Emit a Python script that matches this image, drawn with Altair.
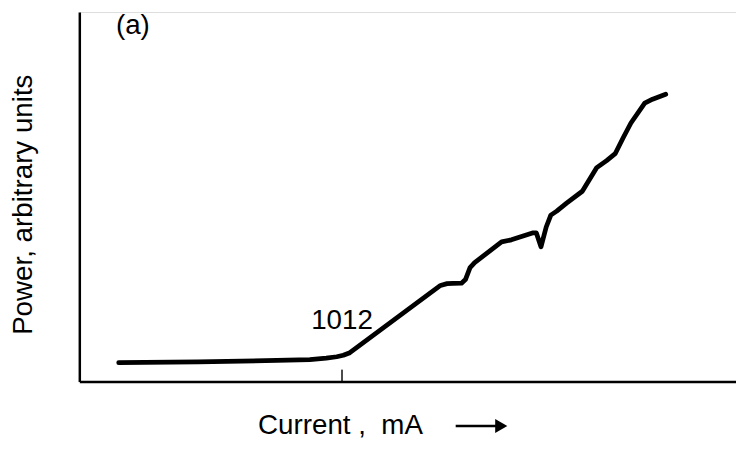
import altair as alt
import pandas as pd

# Curve (x: 0-100 across the axis, y: 0-100 up the axis)
current = [6.0, 18.1, 30.1, 35.1, 37.6, 39.2, 40.2, 41.2, 55.0, 56.0, 56.9, 58.2, 58.8, 59.5,
           60.2, 64.3, 65.8, 69.0, 69.6, 70.3, 71.1, 71.8, 72.7, 74.2, 76.6, 78.8,
           80.3, 81.6, 82.8, 84.0, 86.1, 87.3, 89.3]
power = [5.09, 5.28, 5.71, 5.95, 6.3, 6.7, 7.1, 7.8, 26.0, 26.5, 26.55, 26.6, 27.6, 30.83,
         32.17, 37.80, 38.34, 40.21, 40.21, 36.46, 41.82, 45.04, 46.11, 48.26, 51.5, 57.9,
         59.8, 61.66, 65.9, 69.97, 75.34, 76.41, 77.75]

tick_values = [40]
tick_labels = ["1012"]

FONT = "Liberation Sans"

curve_df = pd.DataFrame({"current": current, "power": power})
tick_df = pd.DataFrame({"current": tick_values, "label": tick_labels})

xscale = alt.Scale(domain=[0, 100], nice=False, zero=False)
yscale = alt.Scale(domain=[0, 100], nice=False, zero=False)

x_axis = alt.Axis(
    title="Current , \u00a0mA", labels=False, ticks=False, grid=False,
    domainColor="black", domainWidth=2.5,
    titleFont=FONT, titleFontSize=28, titleFontWeight="normal", titleColor="black",
    titleX=180, titleY=52, titleAlign="left", titleBaseline="alphabetic", titleAnchor="start",
)
y_axis = alt.Axis(
    title="Power, arbitrary units", labels=False, ticks=False, grid=False,
    domainColor="black", domainWidth=2.5,
    titleFont=FONT, titleFontSize=28, titleFontWeight="normal", titleColor="black",
    titleX=-48, titleY=194, titleAngle=-90, titleAlign="center", titleBaseline="alphabetic",
)

line = alt.Chart(curve_df).mark_line(
    color="black", strokeWidth=4.8, interpolate="linear", strokeCap="round", strokeJoin="round"
).encode(
    x=alt.X("current:Q", scale=xscale, axis=x_axis),
    y=alt.Y("power:Q", scale=yscale, axis=y_axis),
)

tick = alt.Chart(tick_df).mark_tick(color="black", size=12, thickness=2).encode(
    x=alt.X("current:Q", scale=xscale),
    y=alt.value(367),
)

tick_text = alt.Chart(tick_df).mark_text(
    font=FONT, fontSize=28, color="black", align="center", baseline="alphabetic"
).encode(
    x=alt.X("current:Q", scale=xscale),
    y=alt.value(320),
    text="label:N",
)

panel = alt.Chart(pd.DataFrame({"t": ["(a)"]})).mark_text(
    font=FONT, fontSize=28, color="black", align="left", baseline="alphabetic"
).encode(x=alt.value(37), y=alt.value(22), text="t:N")

# arrow after the x-axis title: shaft and head
arrow_shaft = alt.Chart(pd.DataFrame({"k": [0]})).mark_rule(
    color="black", strokeWidth=2.5
).encode(x=alt.value(380), x2=alt.value(422), y=alt.value(418))

arrow_head = alt.Chart(pd.DataFrame({"k": [0]})).mark_point(
    shape="triangle-right", filled=True, color="black", opacity=1, size=200
).encode(x=alt.value(426), y=alt.value(418))

chart = alt.layer(line, tick, tick_text, panel, arrow_shaft, arrow_head).properties(
    width=663, height=373,
    autosize=alt.AutoSizeParams(type="none"),
    padding={"left": 72, "top": 2, "right": 0, "bottom": 60},
).configure_view(stroke=None).configure(background="white")

chart.save("out.html", embed_options={"renderer": "svg", "actions": False})
